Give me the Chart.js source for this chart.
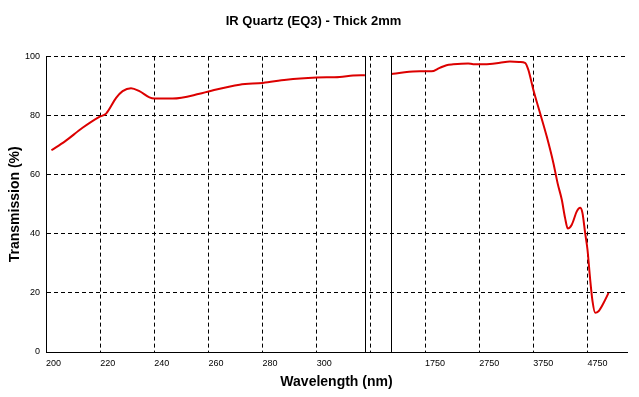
<!DOCTYPE html>
<html>
<head>
<meta charset="utf-8">
<title>IR Quartz (EQ3) - Thick 2mm</title>
<script src="https://cdn.jsdelivr.net/npm/chart.js@4.4.1/dist/chart.umd.min.js"></script>
<style>
  html, body { margin: 0; padding: 0; background: #fff; }
</style>
</head>
<body>
<canvas id="chart" width="639" height="397"></canvas>
<script>
"use strict";

// UV part of the curve: wavelength (nm) / transmission (%)
const uvWavelength = [202, 207, 213.5, 219.7, 222.2, 225.9, 228.3, 231.4, 234.5, 238.2, 240,
  246.8, 256.7, 260.4, 271.5, 280.1, 288.8, 299.9, 308.5, 313.4, 317.8];
const uvTransmission = [68.3, 71.3, 75.9, 79.6, 80.7, 86.0, 88.3, 89.3, 88.3, 86.2, 85.8,
  85.8, 87.4, 88.3, 90.5, 91.1, 92.2, 92.9, 93.1, 93.6, 93.7];

// IR part of the curve
const irWavelength = [1128, 1374, 1652, 1868, 2022, 2146, 2269, 2546, 2639, 2948, 3133,
  3318, 3503, 3596, 3657, 3750, 3874, 3997, 4120, 4200, 4275, 4336, 4386, 4460, 4553,
  4614, 4657, 4707, 4750, 4800, 4843, 4892, 4954, 5047, 5139];
const irTransmission = [94.1, 94.7, 95.0, 95.0, 96.2, 97.1, 97.4, 97.7, 97.4, 97.5, 97.9,
  98.3, 98.2, 97.9, 95.6, 88.8, 80.9, 73.0, 64.0, 57.0, 51.6, 45.4, 41.8, 43.1, 47.6,
  48.8, 47.1, 40.3, 34.7, 24.5, 17.2, 13.3, 13.8, 16.6, 20.0];

// one label per grid column; the column after 300 sits in the axis break
const xTickLabels = ["200", "220", "240", "260", "280", "300", "", "1750", "2750", "3750", "4750"];
const yTickValues = [0, 20, 40, 60, 80, 100];
// the two solid lines that mark the broken axis
const axisBreaksNm = [318, 1128];

// broken axis: 20 nm per column below the break, 1000 nm per column above it
function axisPos(nm) {
  return nm < 1000 ? (nm - 200) / 20 : 7 + (nm - 1750) / 1000;
}

const toPoints = (xs, ys) => xs.map((x, i) => ({ x: axisPos(x), y: ys[i] }));

const FONT = "'Liberation Sans', Arial, sans-serif";
const RED = "#dc0000";
const DASH = [4, 3];

const breakLines = {
  id: "breakLines",
  afterDatasetsDraw(chart) {
    const { ctx, chartArea, scales: { x } } = chart;
    ctx.save();
    ctx.strokeStyle = "#000";
    ctx.lineWidth = 1;
    for (const nm of axisBreaksNm) {
      const px = Math.round(x.getPixelForValue(axisPos(nm))) + 0.5;
      ctx.beginPath();
      ctx.moveTo(px, chartArea.top);
      ctx.lineTo(px, chartArea.bottom);
      ctx.stroke();
    }
    ctx.restore();
  },
};

const lineStyle = {
  borderColor: RED,
  borderWidth: 2,
  pointRadius: 0,
  fill: false,
  cubicInterpolationMode: "monotone",
};

new Chart(document.getElementById("chart"), {
  type: "line",
  data: {
    datasets: [
      { label: "UV", data: toPoints(uvWavelength, uvTransmission), ...lineStyle },
      { label: "IR", data: toPoints(irWavelength, irTransmission), ...lineStyle },
    ],
  },
  options: {
    responsive: false,
    animation: false,
    devicePixelRatio: 1,
    layout: { padding: { left: 0, right: 12, top: 0, bottom: 0 } },
    plugins: {
      legend: { display: false },
      tooltip: { enabled: false },
      title: {
        display: true,
        text: "IR Quartz (EQ3) - Thick 2mm",
        color: "#000",
        font: { family: FONT, size: 13, weight: "bold" },
        padding: { top: 14, bottom: 27 },
      },
    },
    scales: {
      x: {
        type: "linear",
        min: 0,
        max: 10.73,
        afterBuildTicks: (axis) => { axis.ticks = xTickLabels.map((_, i) => ({ value: i })); },
        afterFit: (axis) => { axis.height = 45; },
        grid: { color: "#000", lineWidth: 1, drawTicks: false },
        border: { display: true, color: "#000", width: 1, dash: DASH },
        ticks: {
          color: "#000",
          font: { family: FONT, size: 9 },
          padding: 6,
          align: "start",
          maxRotation: 0,
          autoSkip: false,
          callback: (value) => xTickLabels[value] ?? "",
        },
        title: {
          display: true,
          text: "Wavelength (nm)",
          color: "#000",
          font: { family: FONT, size: 14, weight: "bold" },
          padding: { top: 0, bottom: 6 },
        },
      },
      y: {
        min: 0,
        max: 100,
        afterBuildTicks: (axis) => { axis.ticks = yTickValues.map((v) => ({ value: v })); },
        afterFit: (axis) => { axis.width = 46; },
        grid: { color: "#000", lineWidth: 1, drawTicks: false },
        border: { display: true, color: "#000", width: 1, dash: DASH },
        ticks: {
          color: "#000",
          font: { family: FONT, size: 9 },
          padding: 6,
        },
        title: {
          display: true,
          text: "Transmission (%)",
          color: "#000",
          font: { family: FONT, size: 14, weight: "bold" },
          padding: { top: 7, bottom: 0 },
        },
      },
    },
  },
  plugins: [breakLines],
});
</script>
</body>
</html>
